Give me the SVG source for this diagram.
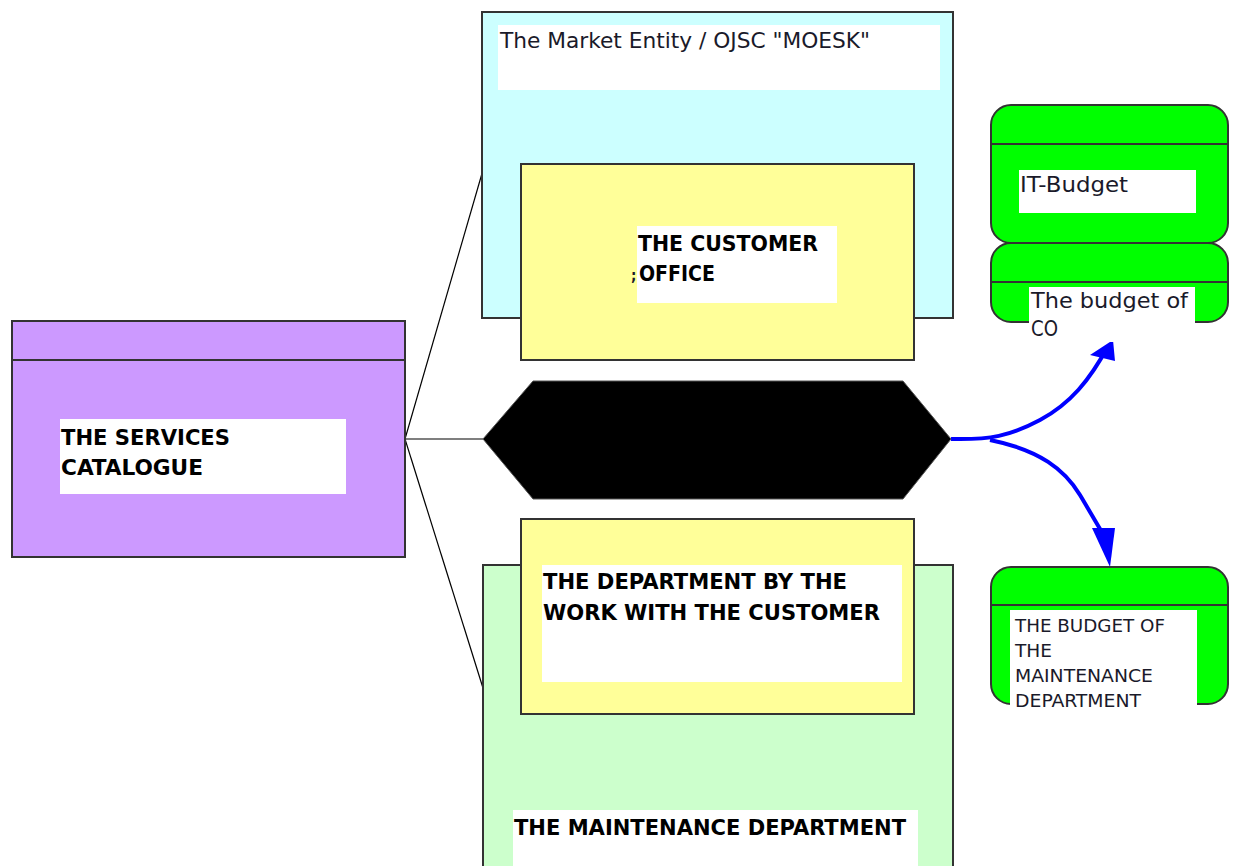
<svg xmlns="http://www.w3.org/2000/svg" width="1237" height="866" viewBox="0 0 1237 866">
  <style>
    .box { stroke: #333; stroke-width: 2; }
    .pane { fill: #ffffff; }
    .t { font-family: "DejaVu Sans Condensed", "DejaVu Sans", sans-serif; fill: #1a1a2a; }
    .b { font-weight: bold; font-size: 21px; fill: #000; }
    .n { font-size: 21px; }
    .s { font-size: 17px; }
    .link { stroke: #000; stroke-width: 1.2; fill: none; }
    .flow { stroke: #0000ff; stroke-width: 4; fill: none; }
  </style>

  <rect width="1237" height="866" fill="#ffffff"/>

  <!-- connectors from the catalogue and the junction -->
  <g id="connectors">
    <line class="link" x1="405" y1="439" x2="484" y2="439"/>
    <line class="link" x1="405" y1="439" x2="483" y2="170"/>
    <line class="link" x1="405" y1="439" x2="483" y2="688"/>
    <path class="flow" d="M951,439 C990,440 1010,436 1040,420 C1070,404 1090,380 1108,346"/>
    <path class="flow" d="M990,440 C1040,450 1065,470 1080,495 C1092,515 1103,535 1110,545"/>
    <polygon points="1113,340 1115,361 1090,355" fill="#0000ff"/>
    <polygon points="1110,567 1092,528 1115,528" fill="#0000ff"/>
  </g>

  <g id="market-entity">
    <rect class="box" x="482" y="12" width="471" height="306" fill="#ccffff"/>
    <rect class="pane" x="498" y="25" width="442" height="65"/>
    <text class="t n" x="500" y="48" textLength="370" lengthAdjust="spacingAndGlyphs">The Market Entity / OJSC "MOESK"</text>
  </g>

  <g id="customer-office">
    <rect class="box" x="521" y="164" width="393" height="196" fill="#ffff99"/>
    <rect class="pane" x="637" y="226" width="200" height="77"/>
    <text class="t b" x="638" y="251" textLength="180" lengthAdjust="spacingAndGlyphs">THE CUSTOMER</text>
    <text class="t" x="631" y="281" font-size="15" font-weight="bold" fill="#000">;</text>
    <text class="t b" x="639" y="281" textLength="76" lengthAdjust="spacingAndGlyphs">OFFICE</text>
  </g>

  <g id="services-catalogue">
    <rect class="box" x="12" y="321" width="393" height="236" fill="#cc99ff"/>
    <line class="box" x1="12" y1="360" x2="405" y2="360"/>
    <rect class="pane" x="60" y="419" width="286" height="75"/>
    <text class="t b" x="61" y="445" textLength="169" lengthAdjust="spacingAndGlyphs">THE SERVICES</text>
    <text class="t b" x="61" y="475" textLength="142" lengthAdjust="spacingAndGlyphs">CATALOGUE</text>
  </g>

  <g id="junction">
    <polygon points="483,439 533,381 903,381 951,439 903,499 533,499" fill="#000" stroke="#555" stroke-width="1"/>
  </g>

  <g id="maintenance-department">
    <rect class="box" x="483" y="565" width="470" height="310" fill="#ccffcc"/>
    <rect class="pane" x="513" y="810" width="405" height="60"/>
    <text class="t b" x="514" y="835" textLength="392" lengthAdjust="spacingAndGlyphs">THE MAINTENANCE DEPARTMENT</text>
  </g>

  <g id="customer-department">
    <rect class="box" x="521" y="519" width="393" height="195" fill="#ffff99"/>
    <rect class="pane" x="542" y="565" width="360" height="117"/>
    <text class="t b" x="543" y="589" textLength="304" lengthAdjust="spacingAndGlyphs">THE DEPARTMENT BY THE</text>
    <text class="t b" x="543" y="620" textLength="337" lengthAdjust="spacingAndGlyphs">WORK WITH THE CUSTOMER</text>
  </g>

  <g id="it-budget">
    <rect class="box" x="991" y="105" width="237" height="138" rx="20" fill="#00ff00"/>
    <line class="box" x1="991" y1="144" x2="1228" y2="144"/>
    <rect class="pane" x="1019" y="170" width="177" height="43"/>
    <text class="t n" x="1020" y="192" textLength="108" lengthAdjust="spacingAndGlyphs">IT-Budget</text>
  </g>

  <g id="co-budget">
    <rect class="box" x="991" y="243" width="237" height="79" rx="20" fill="#00ff00"/>
    <line class="box" x1="991" y1="282" x2="1228" y2="282"/>
    <rect class="pane" x="1029" y="287" width="166" height="55"/>
    <text class="t n" x="1031" y="308" textLength="157" lengthAdjust="spacingAndGlyphs">The budget of</text>
    <text class="t n" x="1031" y="336" textLength="27" lengthAdjust="spacingAndGlyphs">CO</text>
  </g>

  <g id="maintenance-budget">
    <rect class="box" x="991" y="567" width="237" height="137" rx="20" fill="#00ff00"/>
    <line class="box" x1="991" y1="605" x2="1228" y2="605"/>
    <rect class="pane" x="1010" y="610" width="187" height="105"/>
    <text class="t s" x="1015" y="632" textLength="150" lengthAdjust="spacingAndGlyphs">THE BUDGET OF</text>
    <text class="t s" x="1015" y="657" textLength="37" lengthAdjust="spacingAndGlyphs">THE</text>
    <text class="t s" x="1015" y="682" textLength="138" lengthAdjust="spacingAndGlyphs">MAINTENANCE</text>
    <text class="t s" x="1015" y="707" textLength="126" lengthAdjust="spacingAndGlyphs">DEPARTMENT</text>
  </g>
</svg>
